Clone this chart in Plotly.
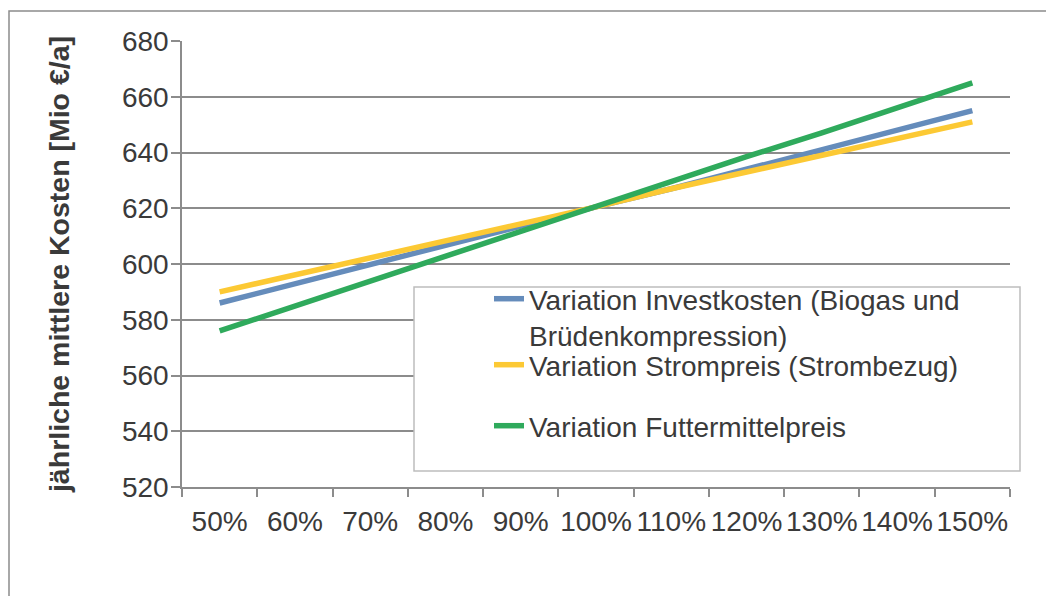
import plotly.graph_objects as go

categories = ["50%", "60%", "70%", "80%", "90%", "100%", "110%", "120%", "130%", "140%", "150%"]
invest = [586, 593, 600, 607, 614, 620.5, 627, 634, 641, 648, 655]
strom = [590, 596, 602, 608, 614.5, 620.5, 627, 633, 639, 645, 651]
futter = [576, 585, 594, 603, 611.5, 620.5, 629.5, 638.5, 647, 656, 665]

names = ["Variation Investkosten (Biogas und<br>Brüdenkompression)",
         "Variation Strompreis (Strombezug)",
         "Variation Futtermittelpreis"]
colors = ["#658CBB", "#FCC934", "#2FAA5C"]
legend_ids = ["legend", "legend2", "legend3"]

FONT = "Liberation Sans, Arial, sans-serif"
TXT = "#3a3a3a"
GRID = "#8c8c8c"
FS = 28

OFF = 8  # page body margin
W, H = 1054, 596
# screen coordinates of plot area
L, R, T, B = 182, 1010, 41, 487
pw, ph = R - L, B - T


def px(x):
    return (x - L) / pw


def py(y):
    return (B - y) / ph


fig = go.Figure()
for vals, nm, col, lg in zip([invest, strom, futter], names, colors, legend_ids):
    fig.add_trace(go.Scatter(x=categories, y=vals, mode="lines", name=nm,
                             line=dict(color=col, width=5.5), legend=lg))

leg_common = dict(xanchor="left", yanchor="top", bgcolor="rgba(0,0,0,0)",
                  borderwidth=0, font=dict(family=FONT, size=FS, color=TXT),
                  valign="top")

fig.update_layout(
    width=W, height=H,
    margin=dict(l=L - OFF, r=W - R + OFF, t=T - OFF, b=H - B + OFF, autoexpand=False),
    paper_bgcolor="white", plot_bgcolor="white",
    font=dict(family=FONT, size=FS, color=TXT),
    showlegend=True,
    legend=dict(x=px(489), y=py(274), **leg_common),
    legend2=dict(x=px(489), y=py(340), **leg_common),
    legend3=dict(x=px(489), y=py(401), **leg_common),
    xaxis=dict(type="category", range=[-0.5, 10.5], showgrid=False,
               showline=True, linecolor=GRID, linewidth=1.5,
               ticks="outside", tickson="boundaries", ticklen=8,
               tickcolor=GRID, tickwidth=1.5, tickangle=0,
               ticklabelstandoff=9,
               tickfont=dict(family=FONT, size=FS, color=TXT)),
    yaxis=dict(range=[520, 680], dtick=20, tick0=520, showgrid=True,
               gridcolor=GRID, gridwidth=1.5, zeroline=False,
               showline=True, linecolor=GRID, linewidth=1.5,
               ticks="outside", ticklen=9, tickcolor=GRID, tickwidth=1.5,
               ticklabelstandoff=-3,
               tickfont=dict(family=FONT, size=FS, color=TXT),
               title=dict(text="<b>jährliche mittlere Kosten [Mio €/a]</b>",
                          font=dict(family=FONT, size=28.5, color=TXT),
                          standoff=44)),
    shapes=[
        dict(type="rect", xref="paper", yref="paper",
             x0=px(9), x1=px(1051), y0=py(640), y1=py(11),
             line=dict(color="#8c8c8c", width=1.5), fillcolor="rgba(0,0,0,0)", layer="above"),
        dict(type="rect", xref="paper", yref="paper",
             x0=px(414), x1=px(1020), y0=py(471), y1=py(287),
             line=dict(color="#bdbdbd", width=1.5), fillcolor="white", layer="above"),
    ],
)

fig.write_html("out.html")
